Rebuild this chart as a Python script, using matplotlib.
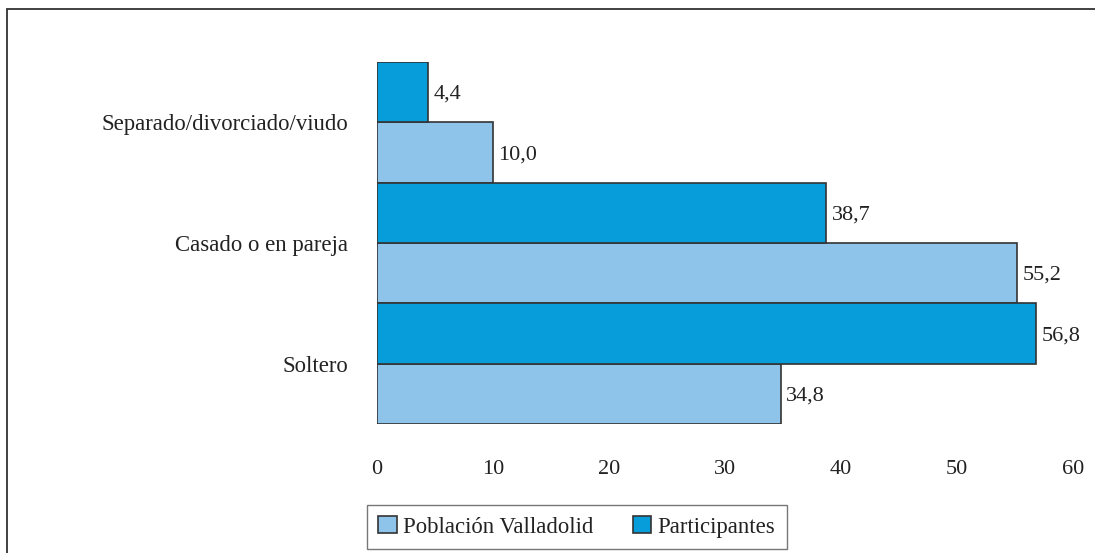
import numpy as np
import matplotlib
matplotlib.use('Agg')
from matplotlib import pyplot as plt
from matplotlib.patches import Rectangle

# Data
categories = ['Soltero', 'Casado o en pareja', 'Separado/divorciado/viudo']
poblacion = [34.8, 55.2, 10.0]
participantes = [56.8, 38.7, 4.4]
series_names = ['Población Valladolid', 'Participantes']

color_pob = '#8EC4EA'
color_part = '#069DDA'
edge = '#333333'
fs = 16.4

plt.rcParams['font.family'] = ['Liberation Serif', 'DejaVu Serif']
W, H = 1095, 553
fig = plt.figure(figsize=(W / 100, H / 100), dpi=100)

# outer frame
fig.patches.append(Rectangle((7 / W, -0.1), 1.2, (H - 9) / H + 0.1, transform=fig.transFigure,
                             fill=False, edgecolor='#333333', lw=1.3))

ax = fig.add_axes([377 / W, (H - 424) / H, (1073 - 377) / W, (424 - 62) / H])
y = np.arange(len(categories))
h = 0.5
b1 = ax.barh(y - h / 2, poblacion, height=h, color=color_pob, edgecolor=edge, lw=1.2, label=series_names[0])
b2 = ax.barh(y + h / 2, participantes, height=h, color=color_part, edgecolor=edge, lw=1.2, label=series_names[1])

for bars, vals in ((b1, poblacion), (b2, participantes)):
    for bar, v in zip(bars, vals):
        ax.annotate(f'{v:.1f}'.replace('.', ','), (v, bar.get_y() + bar.get_height() / 2),
                    xytext=(4, -1.5), textcoords='offset points', va='center', ha='left',
                    fontsize=16, color='#222222')

ax.set_xlim(0, 60)
ax.set_ylim(-0.5, len(categories) - 0.5)
ax.set_xticks(range(0, 61, 10))
ax.set_yticks(y)
ax.set_yticklabels(categories)
ax.tick_params(axis='x', length=0, pad=26, labelsize=16, labelcolor='#222222')
ax.tick_params(axis='y', length=0, pad=21, labelsize=fs, labelcolor='#222222')
for s in ax.spines.values():
    s.set_visible(False)
ax.patch.set_visible(False)

leg = fig.legend(handles=[b1, b2], loc='lower left', bbox_to_anchor=(367 / W, (H - 549) / H),
                 ncol=2, frameon=True, fancybox=False, fontsize=fs, handlelength=0.8,
                 handleheight=0.8, handletextpad=0.3, columnspacing=1.7, borderpad=0.5,
                 edgecolor='#555555', borderaxespad=0)
leg.get_frame().set_linewidth(1.0)
for t in leg.get_texts():
    t.set_color('#222222')

fig.savefig('out.png', dpi=100)
